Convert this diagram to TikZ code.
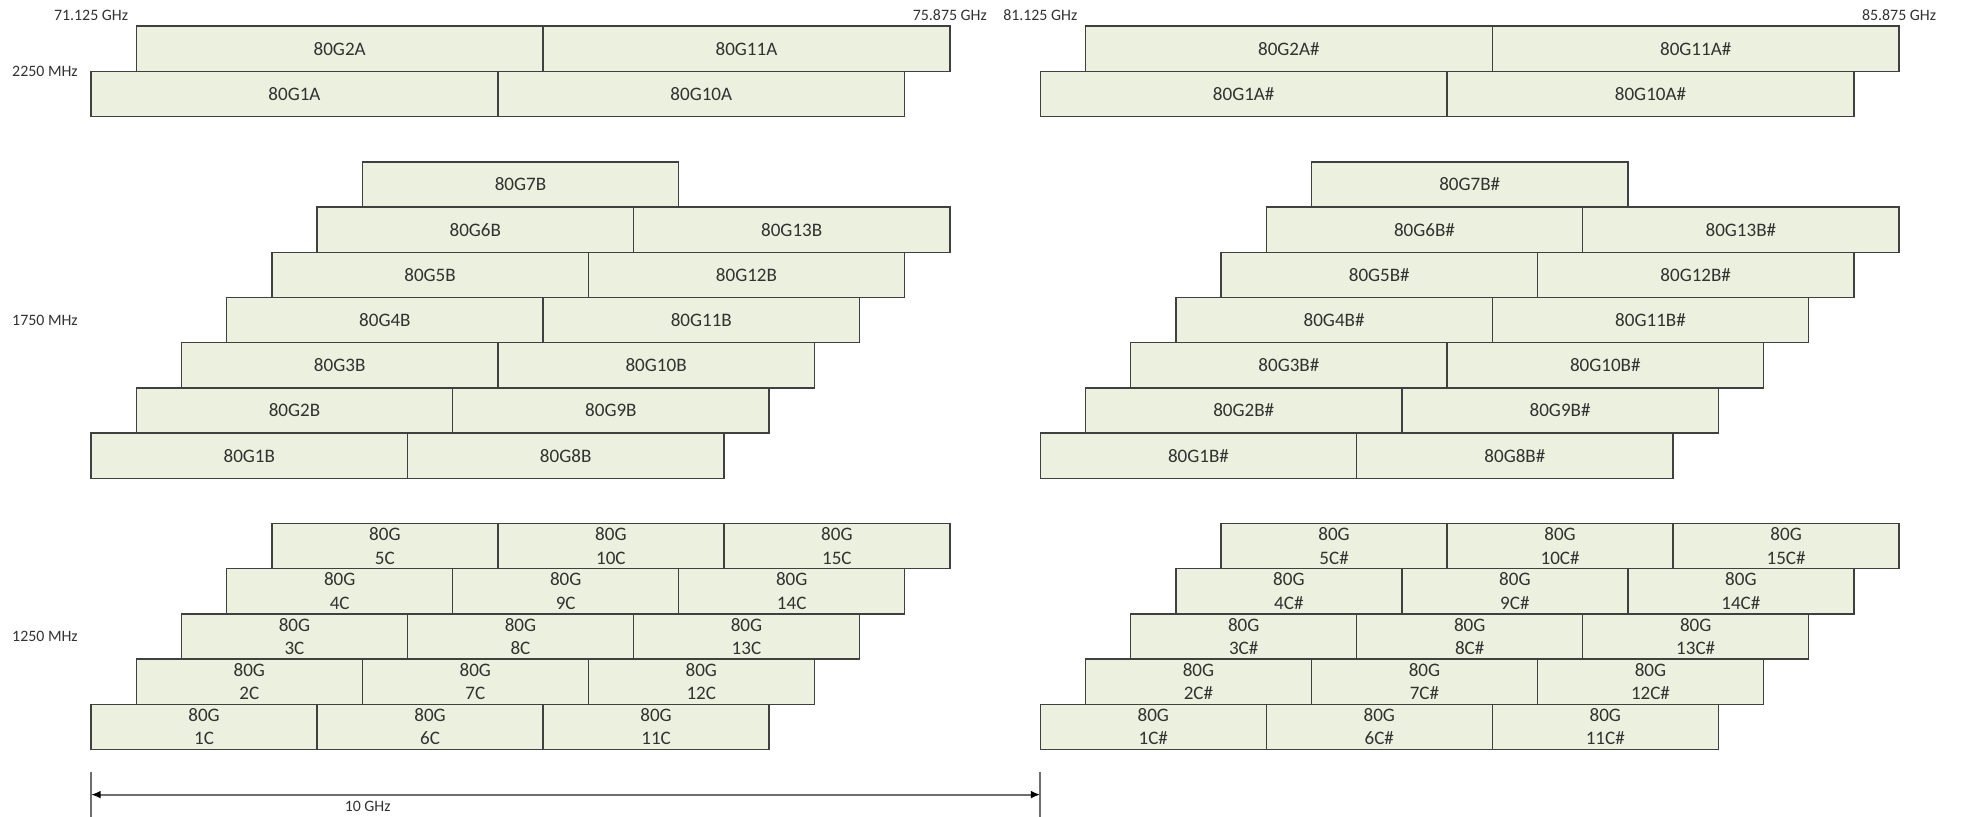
\documentclass[tikz,border=0pt]{standalone}
\usepackage{fontspec}
\setmainfont{Carlito}
\usetikzlibrary{arrows.meta}
\definecolor{chfill}{RGB}{235,241,222}
\definecolor{chline}{RGB}{64,64,64}
\definecolor{chtext}{RGB}{50,50,50}
\definecolor{dimgray}{RGB}{110,110,110}
\tikzset{
  chan/.style={draw=chline, fill=chfill, line width=0.9pt, minimum height=1cm,
    inner sep=0pt, outer sep=0pt, anchor=north west, text=chtext, align=center,
    font=\fontsize{12}{14.7}\selectfont},
  chanA/.style={chan, minimum width=9cm},
  chanB/.style={chan, minimum width=7cm},
  chanC/.style={chan, minimum width=5cm},
  freqlab/.style={text=chtext, font=\fontsize{10}{12}\selectfont, inner sep=0pt},
  dimline/.style={draw=dimgray, line width=1.2pt},
}
\begin{document}
\begin{tikzpicture}
\useasboundingbox (-2.015,0) rectangle (41.37,-18.075);
\foreach \off/\side/\suf in {0/L/{}, 21/R/\#} {
  % 2250 MHz channels
  \node[chanA] (\side a1)  at (\off, -1.58)    {80G1A\suf};
  \node[chanA] (\side a10) at ({\off+9}, -1.58)  {80G10A\suf};
  \node[chanA] (\side a2)  at ({\off+1}, -0.58)  {80G2A\suf};
  \node[chanA] (\side a11) at ({\off+10}, -0.58) {80G11A\suf};
  % 1750 MHz channels
  \foreach \rr in {1,...,7} {
    \pgfmathtruncatemacro\nb{\rr+7}
    \node[chanB] (\side b\rr) at ({\off+\rr-1}, {-3.58-(7-\rr)}) {80G\rr B\suf};
    \ifnum\rr<7
      \node[chanB] (\side b\nb) at ({\off+\rr+6}, {-3.58-(7-\rr)}) {80G\nb B\suf};
    \fi
  }
  % 1250 MHz channels
  \foreach \rr in {1,...,5} {
    \pgfmathtruncatemacro\nb{\rr+5}
    \pgfmathtruncatemacro\nc{\rr+10}
    \node[chanC] (\side c\rr) at ({\off+\rr-1}, {-11.58-(5-\rr)}) {80G\\\rr C\suf};
    \node[chanC] (\side c\nb) at ({\off+\rr+4}, {-11.58-(5-\rr)}) {80G\\\nb C\suf};
    \node[chanC] (\side c\nc) at ({\off+\rr+9}, {-11.58-(5-\rr)}) {80G\\\nc C\suf};
  }
}
% frequency labels
\node[freqlab] (f1) at (0,-0.33)  {71.125 GHz};
\node[freqlab] (f2) at (19,-0.33) {75.875 GHz};
\node[freqlab] (f3) at (21,-0.33) {81.125 GHz};
\node[freqlab] (f4) at (40,-0.33) {85.875 GHz};
% bandwidth labels
\node[freqlab] (w1) at (-1.02,-1.58)  {2250 MHz};
\node[freqlab] (w2) at (-1.02,-7.08)  {1750 MHz};
\node[freqlab] (w3) at (-1.02,-14.08) {1250 MHz};
% 10 GHz dimension
\coordinate (t1a) at (0,-17.07);
\coordinate (t1b) at (0,-18.075);
\coordinate (t2a) at (21,-17.07);
\coordinate (t2b) at (21,-18.075);
\coordinate (d1) at (0,-17.58);
\coordinate (d2) at (21,-17.58);
\draw[dimline] (t1a) -- (t1b);
\draw[dimline] (t2a) -- (t2b);
\draw[dimline, {Latex[length=6pt,width=5pt,color=black]}-{Latex[length=6pt,width=5pt,color=black]}] (d1) -- (d2);
\node[freqlab] (dl) at (6.12,-17.85) {10 GHz};
\end{tikzpicture}
\end{document}
